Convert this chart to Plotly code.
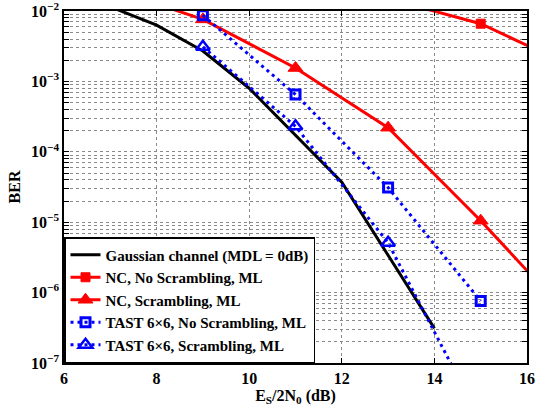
import plotly.graph_objects as go

# ---- data ----
snr_gauss = [6, 7, 8, 9, 10, 11, 12, 13, 14]
ber_gauss = [2.0e-2, 1.15e-2, 6.3e-3, 2.7e-3, 8.0e-4, 1.75e-4, 3.7e-5, 3.4e-6, 3.1e-7]

snr_nc_noscr = [13, 15, 17]
ber_nc_noscr = [1.5e-2, 6.6e-3, 1.6e-3]

snr_nc_scr = [7, 9, 11, 13, 15, 17]
ber_nc_scr = [2.1e-2, 7.6e-3, 1.55e-3, 2.2e-4, 1.05e-5, 4.0e-7]

snr_tast_noscr = [9, 11, 13, 15]
ber_tast_noscr = [8.7e-3, 6.5e-4, 3.1e-5, 7.6e-7]

snr_tast_scr = [9, 11, 13, 15]
ber_tast_scr = [3.1e-3, 2.3e-4, 5.1e-6, 1.5e-8]

names = [
    "Gaussian channel (MDL = 0dB)",
    "NC, No Scrambling, ML",
    "NC, Scrambling, ML",
    "TAST 6\u00d76, No Scrambling, ML",
    "TAST 6\u00d76, Scrambling, ML",
]

x_ticks = [6, 8, 10, 12, 14, 16]
y_major = [1e-7, 1e-6, 1e-5, 1e-4, 1e-3, 1e-2]
y_major_text = ["10<sup>\u22127</sup>", "10<sup>\u22126</sup>", "10<sup>\u22125</sup>",
                "10<sup>\u22124</sup>", "10<sup>\u22123</sup>", "10<sup>\u22122</sup>"]

# build y tick list with minor grid values (unlabelled)
y_tickvals, y_ticktext = [], []
for v, t in zip(y_major, y_major_text):
    y_tickvals.append(v)
    y_ticktext.append("<b>" + t + "</b>")
    if v < 1e-2:
        for m in range(2, 10):
            y_tickvals.append(v * m)
            y_ticktext.append("")

FONT = "Liberation Serif, Times New Roman, Times, serif"
RED = "#ff0000"
BLUE = "#0000ff"
dotdash = "3px,4px"

fig = go.Figure()
fig.add_trace(go.Scatter(x=snr_gauss, y=ber_gauss, mode="lines", name="<b>" + names[0] + "</b>",
                         line=dict(color="black", width=3)))
fig.add_trace(go.Scatter(x=snr_nc_noscr, y=ber_nc_noscr, mode="lines+markers", name="<b>" + names[1] + "</b>",
                         line=dict(color=RED, width=3),
                         marker=dict(symbol="square", size=9, color=RED,
                                     line=dict(color=RED, width=1))))
fig.add_trace(go.Scatter(x=snr_nc_scr, y=ber_nc_scr, mode="lines+markers", name="<b>" + names[2] + "</b>",
                         line=dict(color=RED, width=3),
                         marker=dict(symbol="triangle-up", size=13, color=RED,
                                     line=dict(color=RED, width=1))))
fig.add_trace(go.Scatter(x=snr_tast_noscr, y=ber_tast_noscr, mode="lines+markers", name="<b>" + names[3] + "</b>",
                         line=dict(color=BLUE, width=3, dash=dotdash),
                         marker=dict(symbol="square-open", size=9, color=BLUE,
                                     line=dict(color=BLUE, width=3))))
fig.add_trace(go.Scatter(x=snr_tast_scr, y=ber_tast_scr, mode="lines+markers", name="<b>" + names[4] + "</b>",
                         line=dict(color=BLUE, width=3, dash=dotdash),
                         marker=dict(symbol="triangle-up-open", size=12, color=BLUE,
                                     line=dict(color=BLUE, width=2.5))))

axis_common = dict(
    showline=True, linecolor="black", linewidth=1.5, mirror="allticks",
    ticks="inside", ticklen=5, tickcolor="black",
    showgrid=True, gridcolor="#8a8a8a", griddash="dot", gridwidth=1,
    zeroline=False, automargin=False, ticklabeloverflow="allow",
    tickfont=dict(family=FONT, size=16, color="black"),
)

fig.update_xaxes(range=[6, 16], tickvals=x_ticks,
                 ticktext=["<b>%d</b>" % v for v in x_ticks],
                 title=dict(text="<b>E<sub>S</sub>/2N<sub>0</sub> (dB)</b>", standoff=0,
                            font=dict(family=FONT, size=16, color="black")),
                 **axis_common)
fig.update_yaxes(type="log", range=[-7, -1.9999], tickvals=y_tickvals, ticktext=y_ticktext,
                 title=dict(text="<b>BER</b>", standoff=6,
                            font=dict(family=FONT, size=16, color="black")),
                 **axis_common)

fig.update_layout(
    width=538, height=408,
    margin=dict(l=64, r=11, t=11, b=45),
    paper_bgcolor="white", plot_bgcolor="white",
    showlegend=True,
    legend=dict(x=0, y=0, xanchor="left", yanchor="bottom",
                bgcolor="white", bordercolor="black", borderwidth=1.5,
                font=dict(family=FONT, size=15, color="black"),
                tracegroupgap=0, itemwidth=30),
)

fig.write_html("out.html",
               config={"displayModeBar": False},
               post_script="document.body.style.margin='0';document.body.style.padding='0';")
